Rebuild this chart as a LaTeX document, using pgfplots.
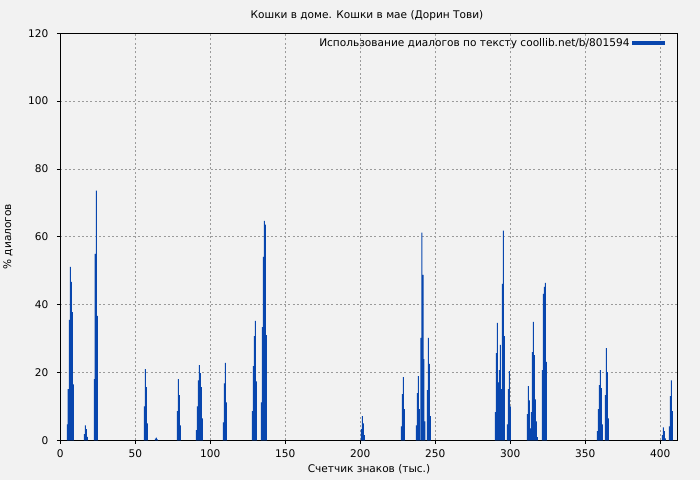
\documentclass[border=0pt]{standalone}
\usepackage{fontspec}
\setmainfont{DejaVu Sans}
\usepackage{pgfplots}
\pgfplotsset{compat=1.18}
\definecolor{bg}{RGB}{242,242,242}
\definecolor{barblue}{RGB}{8,70,174}
\definecolor{gridgray}{RGB}{155,155,155}

\begin{document}
\begin{tikzpicture}[x=1bp,y=1bp]
% page background, 700 x 480
\fill[bg] (0,0) rectangle (700,480);
\node[font=\fontsize{10.6}{12}\selectfont] at (367,464) {Кошки в доме. Кошки в мае (Дорин Тови)};
\begin{axis}[
    at={(60.3bp,39.7bp)}, anchor=south west,
    width=617.4bp, height=407bp, scale only axis,
    xmin=0, xmax=411.6,
    ymin=0, ymax=120,
    enlargelimits=false,
    ybar, bar width=0.67,
    xtick={0,50,...,400},
    ytick={0,20,...,120},
    tick align=outside, tick pos=left,
    major tick length=3.5bp,
    tick style={black, line width=0.8bp},
    axis line style={black, line width=0.9bp},
    grid=major,
    major grid style={gridgray, dash pattern=on 2bp off 2.3bp, line width=0.7bp},
    /pgf/number format/assume math mode=true,
    ticklabel style={font=\fontsize{10.6}{12}\selectfont},
    yticklabel style={xshift=-5bp},
    xticklabel style={yshift=-2bp},
    xlabel={Счетчик знаков (тыс.)},
    ylabel={\% диалогов},
    label style={font=\fontsize{10.6}{12}\selectfont},
    xlabel style={at={(axis description cs:0.5,-0.0713)}, anchor=center},
    ylabel style={at={(axis description cs:-0.0847,0.5)}, anchor=center, rotate=0},
    legend style={at={(axis description cs:1,1)}, anchor=north east,
        xshift=-10bp, yshift=-1bp, draw=none, fill=none,
        font=\fontsize{10.6}{12}\selectfont, legend plot pos=right},
    legend image code/.code={\fill[barblue] (0bp,-2bp) rectangle (33bp,2bp);},
]
\addplot[fill=barblue, draw=none] coordinates {
    (4.7,4.7)(5.3,15.1)(6.0,35.5)(6.7,51.1)(7.3,46.7)(8.0,37.8)(8.7,16.5)
    (16.0,1.8)(16.7,4.4)(17.3,3.3)(18.0,1.0)
    (22.7,18.0)(23.3,55.0)(24.0,73.6)(24.7,36.7)
    (56.0,10.0)(56.7,21.0)(57.3,15.7)(58.0,5.0)
    (63.3,0.5)(64.0,0.8)(64.7,0.3)
    (78.0,8.6)(78.7,18.0)(79.3,13.3)(80.0,4.4)
    (90.7,3.0)(91.3,10.0)(92.0,17.7)(92.7,22.2)(93.3,19.8)(94.0,15.7)(94.7,6.5)
    (108.7,5.3)(109.3,16.8)(110.0,22.8)(110.7,11.2)
    (128.0,8.6)(128.7,21.9)(129.3,30.7)(130.0,35.2)(130.7,17.4)
    (134.0,11.2)(134.7,33.4)(135.3,54.1)(136.0,64.7)(136.7,63.6)(137.3,31.0)
    (200.7,3.3)(201.3,7.1)(202.0,5.0)(202.7,1.5)
    (227.3,4.1)(228.0,13.6)(228.7,18.6)(229.3,9.2)
    (237.3,4.4)(238.0,13.9)(238.7,18.9)(239.3,9.2)
    (240.4,30.2)(241.1,61.2)(241.8,48.8)(242.4,23.9)(243.1,5.6)
    (244.7,14.8)(245.3,30.2)(246.0,22.5)(246.7,7.1)
    (290.0,8.3)(290.7,25.7)(291.3,34.6)(292.0,17.1)(292.7,20.7)(293.3,28.1)(294.0,15.1)
    (294.7,46.1)(295.3,61.8)(296.0,30.7)
    (298.0,4.7)(298.7,15.1)(299.3,20.4)(300.0,10.0)
    (311.3,7.7)(312.0,16.0)(312.7,11.8)(313.3,3.5)(314.0,8.3)(314.7,26.0)(315.3,34.9)
    (316.0,25.1)(316.7,12.1)(317.3,5.6)(318.0,0.9)
    (321.3,20.7)(322.0,43.2)(322.7,45.2)(323.3,46.4)(324.0,23.1)
    (358.0,2.7)(358.7,9.2)(359.3,16.3)(360.0,20.7)(360.7,15.4)(361.3,4.7)
    (363.3,13.3)(364.0,27.2)(364.7,20.1)(365.3,6.5)
    (401.3,1.5)(402.0,3.8)(402.7,2.7)(403.3,0.6)
    (406.0,4.1)(406.7,13.0)(407.3,17.7)(408.0,8.6)
};
\addlegendentry{Использование диалогов по тексту coollib.net/b/801594}
\end{axis}
\end{tikzpicture}
\end{document}
